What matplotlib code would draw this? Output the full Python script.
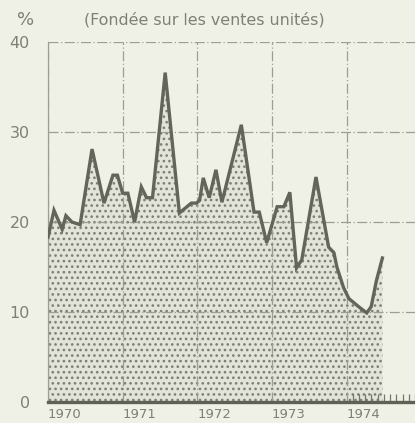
import matplotlib
matplotlib.use("Agg")
import matplotlib.pyplot as plt
import numpy as np

# Time (decimal years) and share (%)
years = [1970.00, 1970.08, 1970.19, 1970.24, 1970.32, 1970.43, 1970.59, 1970.75,
         1970.87, 1970.93, 1971.00, 1971.07, 1971.16, 1971.25, 1971.32, 1971.40,
         1971.57, 1971.76, 1971.92, 1971.99, 1972.03, 1972.08, 1972.16, 1972.25,
         1972.33, 1972.59, 1972.76, 1972.83, 1972.93, 1973.07, 1973.16, 1973.24,
         1973.33, 1973.40, 1973.59, 1973.76, 1973.83, 1973.87, 1973.96, 1974.03,
         1974.16, 1974.27, 1974.33, 1974.40, 1974.48]
values = [18.3, 21.3, 19.2, 20.7, 20.0, 19.7, 28.1, 22.1,
          25.2, 25.2, 23.2, 23.2, 20.0, 23.9, 22.7, 22.7,
          36.6, 21.0, 22.1, 22.1, 22.4, 24.9, 22.7, 25.8,
          22.2, 30.8, 21.1, 21.1, 17.7, 21.7, 21.7, 23.3,
          14.9, 15.8, 25.0, 17.2, 16.6, 15.0, 12.7, 11.5,
          10.6, 9.9, 10.6, 13.5, 16.0]
year_ticks = [1970, 1971, 1972, 1973, 1974]
year_labels = ["1970", "1971", "1972", "1973", "1974"]
y_ticks = [0, 10, 20, 30, 40]
y_labels = ["0", "10", "20", "30", "40"]
title = "(Fondée sur les ventes unités)"
unit = "%"

W, H = 415, 423
bg = "#eff0e6"
txt = "#7f8074"
linec = "#63655a"

fig = plt.figure(figsize=(W / 100, H / 100), dpi=100, facecolor=bg)
ax = fig.add_axes([48 / W, 1 - 402 / H, 1 - 48 / W, (402 - 42) / H])
ax.set_facecolor(bg)

ax.set_xlim(1970, 1970 + (W - 48) / 75)
ax.set_ylim(0, 40)

plt.rcParams['hatch.linewidth'] = 1.1
ax.fill_between(years, values, 0, facecolor="#e3e4d9", edgecolor="#7d7f73",
                hatch="...", linewidth=0, zorder=1)
ax.plot(years, values, color=linec, lw=2.4, zorder=3, solid_joinstyle="miter")

# grid
for yv in y_ticks[1:]:
    ax.axhline(yv, color="#9c9d93", lw=0.9, ls=(0, (8, 2, 1, 2)), zorder=2)
for xv in year_ticks:
    ax.axvline(xv, color="#9c9d93", lw=0.9, ls=(0, (8, 2, 1, 2)), zorder=2)

for s in ["top", "right"]:
    ax.spines[s].set_visible(False)
ax.spines["left"].set_color("#9c9d93")
ax.spines["left"].set_linewidth(0.9)
ax.spines["bottom"].set_color("#5f6156")
ax.spines["bottom"].set_linewidth(2.4)

ax.set_yticks(y_ticks)
ax.set_yticklabels(y_labels)
ax.set_xticks(year_ticks)
ax.set_xticklabels(year_labels, ha="left")
ax.tick_params(axis="y", length=0, pad=13, labelsize=11.5, labelcolor=txt)
ax.tick_params(axis="x", length=0, pad=4, labelsize=9.5, labelcolor=txt)
ax.set_xticks(np.arange(1974, 1975, 1 / 12), minor=True)
ax.tick_params(axis="x", which="minor", direction="in", length=6, width=0.9,
               color="#74766a")

fig.text(17 / W, 1 - 20 / H, unit, fontsize=13, color=txt, ha="left", va="center")
fig.text(84 / W, 1 - 20 / H, title, fontsize=11.4, color=txt, ha="left", va="center")

fig.savefig("out.png", dpi=100, facecolor=bg)
